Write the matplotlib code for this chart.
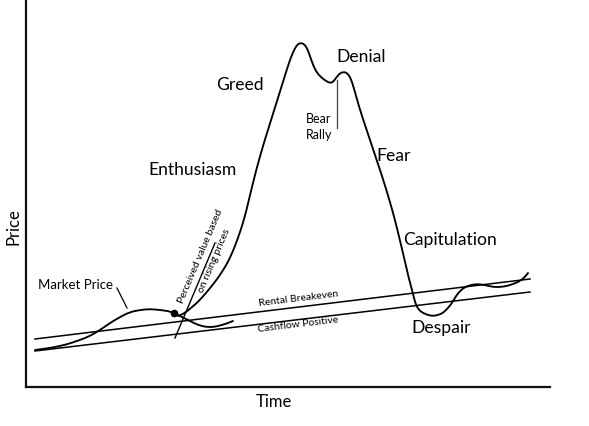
import matplotlib
matplotlib.use("Agg")
import matplotlib.pyplot as plt
from matplotlib.path import Path
from matplotlib.patches import PathPatch

plt.rcParams['font.family'] = ['Lato', 'DejaVu Sans']

# Market price branch (x = time, y = price)
market_x = [35, 50, 65, 80, 90, 100, 110, 120, 130, 140, 150, 160, 168, 174, 182, 190, 198, 206, 214, 222, 228, 233]
market_y = [37, 39, 42, 47, 51, 57, 64, 70, 75, 77, 78, 77, 76, 74, 70, 66, 62, 60, 60, 62, 64, 66]

# Bubble cycle branch (read as pixel rows, converted to price below)
bubble_px = [(178, 316), (185, 313), (192, 307), (198, 302), (206, 293), (215, 282), (222, 272), (228, 262),
             (233, 251), (238, 238), (243, 223), (247, 208), (250, 195), (253, 183), (256, 171), (259, 160),
             (263, 146), (267, 133), (272, 117), (277, 101), (282, 85), (287, 69), (291, 57), (295, 48),
             (298, 44), (301, 43), (304, 44), (307, 48), (310, 56), (313, 65), (317, 73), (322, 78),
             (326, 81), (330, 83), (333, 82), (336, 78), (340, 73), (344, 72), (347, 73), (350, 77),
             (352, 82), (355, 92), (358, 103), (362, 116), (367, 131), (372, 146), (377, 161), (382, 176),
             (387, 192), (392, 209), (397, 228), (402, 249), (406, 266), (409, 279), (412, 290), (414, 298),
             (416, 305), (419, 310), (423, 313), (428, 315), (433, 316), (438, 315), (443, 313), (448, 308),
             (452, 303), (456, 296), (460, 291), (465, 287), (471, 285), (477, 284), (485, 285), (493, 287),
             (500, 287), (507, 286), (513, 284), (518, 282), (523, 279), (528, 273)]
bubble_x = [p[0] for p in bubble_px]
bubble_y = [387 - p[1] for p in bubble_px]

rental_x = [35, 530]
rental_y = [48, 108]
cashflow_x = [35, 530]
cashflow_y = [36, 95]
perceived_x = [175, 215]
perceived_y = [49, 144]


def smooth_path(xs, ys):
    pts = list(zip(xs, ys))
    verts = [pts[0]]
    codes = [Path.MOVETO]
    mid = lambda a, b: ((a[0] + b[0]) / 2, (a[1] + b[1]) / 2)
    verts.append(mid(pts[0], pts[1]))
    codes.append(Path.LINETO)
    for i in range(1, len(pts) - 1):
        verts += [pts[i], mid(pts[i], pts[i + 1])]
        codes += [Path.CURVE3, Path.CURVE3]
    verts.append(pts[-1])
    codes.append(Path.LINETO)
    return Path(verts, codes)


W, H = 589, 426
fig = plt.figure(figsize=(W / 100, H / 100), dpi=100)
ax = fig.add_axes([26 / W, 39 / H, 524 / W, 387 / H])
ax.set_xlim(26, 550)
ax.set_ylim(0, 387)
ax.set_xticks([])
ax.set_yticks([])
for s in ['top', 'right']:
    ax.spines[s].set_visible(False)
for s in ['left', 'bottom']:
    ax.spines[s].set_linewidth(1.6)
    ax.spines[s].set_color('#111111')

lw = 1.35
for xs, ys in [(market_x, market_y), (bubble_x, bubble_y)]:
    ax.add_patch(PathPatch(smooth_path(xs, ys), facecolor='none', edgecolor='black', lw=lw,
                           capstyle='round', joinstyle='round'))
ax.plot(rental_x, rental_y, color='black', lw=1.1)
ax.plot(cashflow_x, cashflow_y, color='black', lw=1.1)
ax.plot(perceived_x, perceived_y, color='black', lw=1.0)
ax.plot([174], [74], 'o', color='black', ms=4.5)
ax.plot([337, 337], [307, 259], color='#444444', lw=0.9)
ax.plot([117, 127], [99, 79], color='black', lw=0.9)

big = 12.6
ax.text(75, 102, 'Market Price', fontsize=9.5, ha='center', va='center')
ax.text(240, 302, 'Greed', fontsize=big, ha='center', va='center')
ax.text(193, 217, 'Enthusiasm', fontsize=big, ha='center', va='center')
ax.text(361, 330, 'Denial', fontsize=big, ha='center', va='center')
ax.text(319, 260, 'Bear\nRally', fontsize=9, ha='center', va='center', linespacing=1.35)
ax.text(394, 231, 'Fear', fontsize=big, ha='center', va='center')
ax.text(450, 147, 'Capitulation', fontsize=big, ha='center', va='center')
ax.text(441, 59, 'Despair', fontsize=big, ha='center', va='center')
ax.text(298, 88, 'Rental Breakeven', fontsize=7.5, ha='center', va='center', rotation=6.9, rotation_mode='anchor')
ax.text(298, 62, 'Cashflow Positive', fontsize=7.5, ha='center', va='center', rotation=6.9, rotation_mode='anchor')
ax.text(200, 131, 'Perceived value based', fontsize=7.5, ha='center', va='center',
        rotation=67, rotation_mode='anchor')
ax.text(214.5, 126.5, 'on rising prices', fontsize=7.5, ha='center', va='center',
        rotation=67, rotation_mode='anchor')

fig.text(13 / W, 1 - 227 / H, 'Price', fontsize=12, rotation=90, ha='center', va='center')
fig.text(274 / W, 1 - 402 / H, 'Time', fontsize=12, ha='center', va='center')

fig.savefig('out.png', dpi=100)
